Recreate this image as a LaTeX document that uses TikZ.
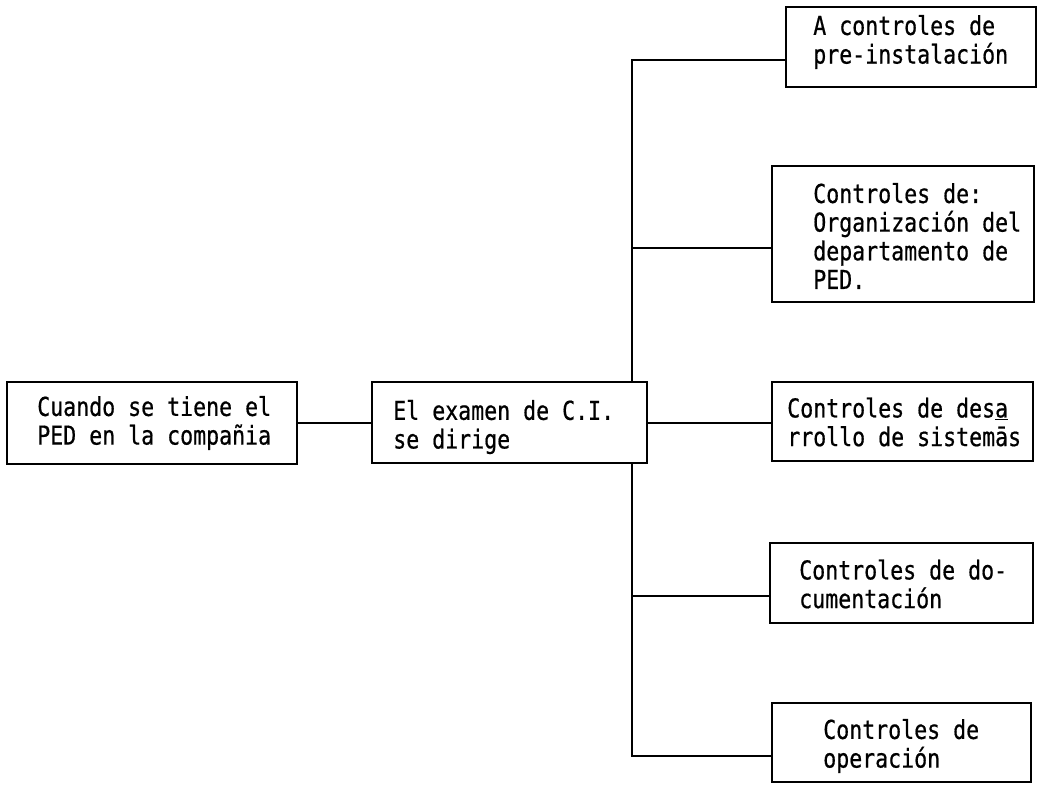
\documentclass[tikz,border=0pt]{standalone}
\usepackage{fontspec}
\newfontfamily\tw[FakeStretch=0.83,FakeBold=0.6]{DejaVu Sans Mono}
\begin{document}
\begin{tikzpicture}[x=0.75pt,y=-0.75pt,
  box/.style={draw, line width=1.9pt, inner sep=0pt, outer sep=0pt},
  txt/.style={font=\tw\fontsize{19.5pt}{21.5pt}\selectfont, align=left, inner sep=0pt, anchor=west},
  link/.style={line width=2pt}]
\useasboundingbox (0,0) rectangle (1040,785);

% boxes
\node[box, minimum width=290*0.75pt, minimum height=82*0.75pt] (b1) at (152,423) {};
\node[box, minimum width=275*0.75pt, minimum height=81*0.75pt] (b2) at (509.5,422.5) {};
\node[box, minimum width=250*0.75pt, minimum height=80*0.75pt] (cA) at (911,47) {};
\node[box, minimum width=262*0.75pt, minimum height=136*0.75pt] (cB) at (903,234) {};
\node[box, minimum width=261*0.75pt, minimum height=79*0.75pt] (cC) at (902.5,421.5) {};
\node[box, minimum width=263*0.75pt, minimum height=80*0.75pt] (cD) at (901.5,583) {};
\node[box, minimum width=259*0.75pt, minimum height=79*0.75pt] (cE) at (901.5,742.5) {};

% box texts
\node[txt] (t1) at (37,423) {Cuando se tiene el\\PED en la compañia};
\node[txt] (t2) at (393,427) {El examen de C.I.\\se dirige};
\node[txt] (tA) at (813,42) {A controles de\\pre-instalación};
\node[txt] (tB) at (813,236) {Controles de:\\Organización del\\departamento de\\PED.};
\node[txt] (tC) at (787,422) {Controles de des\underline{a}\\rrollo de sistem\=as};
\node[txt] (tD) at (799,584) {Controles de do-\\cumentación};
\node[txt] (tE) at (823,746) {Controles de\\operación};

% trunk coordinates
\coordinate (jA) at (632,60);
\coordinate (jB) at (632,248);
\coordinate (jD) at (632,596);
\coordinate (jE) at (632,756);

% connectors
\draw[link] (b1.east) -- (b1.east -| b2.west);
\draw[link] (b2.east |- 0,423) -- (cC.west |- 0,423);
\draw[link] (jA -| cA.west) -- (jA) -- (jA |- b2.north);
\draw[link] (jA |- b2.south) -- (jE) -- (jE -| cE.west);
\draw[link] (jB) -- (jB -| cB.west);
\draw[link] (jD) -- (jD -| cD.west);
\end{tikzpicture}
\end{document}
